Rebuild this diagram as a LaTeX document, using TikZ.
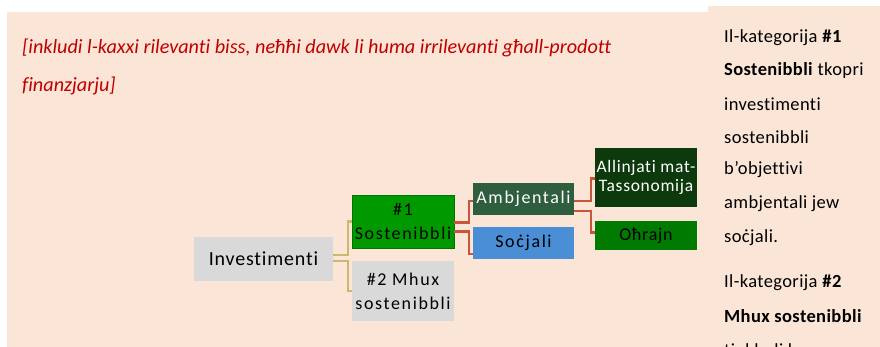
\documentclass[tikz,border=0pt]{standalone}
\usepackage{fontspec}
\setmainfont{Carlito}[Ligatures=NoCommon]
\newfontfamily\boxfont{Carlito}[Ligatures=NoCommon, LetterSpace=4]
\newfontfamily\spacedfont{Carlito}[Ligatures=NoCommon, LetterSpace=9]
\newfontfamily\sidefont{Carlito}[Ligatures=NoCommon, LetterSpace=2]
\usepackage{xcolor}
\usepackage{tikz}
\definecolor{peach}{HTML}{FBE5D6}
\definecolor{notered}{HTML}{C00000}
\definecolor{boxgray}{HTML}{D9D9D9}
\definecolor{sostgreen}{HTML}{009A00}
\definecolor{ambgreen}{HTML}{2E5E3E}
\definecolor{socblue}{HTML}{4A8ED6}
\definecolor{taxgreen}{HTML}{0D3A0D}
\definecolor{othgreen}{HTML}{007A00}
\definecolor{olive}{HTML}{C9BA72}
\definecolor{rust}{HTML}{C9563A}

\begin{document}
\begin{tikzpicture}[x=1pt, y=-1pt,
  box/.style={inner sep=0pt, align=center, font=\boxfont\fontsize{18}{24}\selectfont},
  spaced/.style={font=\spacedfont\fontsize{18}{24}\selectfont},
  tan/.style={olive, line width=2.4pt},
  red/.style={rust, line width=2.4pt}]
\useasboundingbox (0,0) rectangle (880,347);
\fill[white] (0,0) rectangle (880,347);
\fill[peach] (7,12) rectangle (708,347); \fill[peach] (708,6) rectangle (880,347);
% note to the reader
\node[anchor=west, inner sep=0pt, notered, font=\itshape\fontsize{20.2}{22}\selectfont] (note1) at (22,48) {[inkludi l-kaxxi rilevanti biss, neħħi dawk li huma irrilevanti għall-prodott};
\node[anchor=west, inner sep=0pt, notered, font=\itshape\fontsize{20.2}{22}\selectfont] (note2) at (22,86) {finanzjarju]};
% the boxes
\node[box, fill=boxgray, minimum width=139pt, minimum height=44pt, font=\boxfont\fontsize{20}{24}\selectfont] (inv) at (263.5,259) {Investimenti};
\node[box, spaced, fill=sostgreen, draw=green!45!black, minimum width=102pt, minimum height=53pt] (sost) at (403,221.5) {\#1\\Sostenibbli};
\node[box, spaced, fill=boxgray, minimum width=102pt, minimum height=60pt] (mhux) at (403,291) {\#2 Mhux\\sostenibbli};
\node[box, spaced, fill=ambgreen, text=white, minimum width=101pt, minimum height=32pt] (amb) at (523.5,199) {Ambjentali};
\node[box, spaced, fill=socblue, minimum width=101pt, minimum height=32pt] (soc) at (523.5,243) {Soċjali};
\node[box, fill=taxgreen, text=white, minimum width=102pt, minimum height=59pt, font=\boxfont\fontsize{17.5}{19.5}\selectfont] (tax) at (646,177.5) {Allinjati mat-\\Tassonomija};
\node[box, fill=othgreen, minimum width=102pt, minimum height=29pt] (oth) at (646,235.5) {Oħrajn};
% connectors
\draw[tan] ([yshift=4pt]inv.east) -- ++(15,0) |- (sost.west);
\draw[tan] ([yshift=-2pt]inv.east) -- ++(15,0) |- (mhux.west);
\draw[red] ([yshift=-1pt]sost.east) -- ++(15,0) |- ([yshift=-2pt]amb.west);
\draw[red] ([yshift=-10pt]sost.east) -- ++(15,0) |- ([yshift=-11pt]soc.west);
\draw[red] ([yshift=-2pt]amb.east) -- ++(17,0) |- ([yshift=-1pt]tax.west);
\draw[red] ([yshift=-12pt]amb.east) -- ++(17,0) |- ([yshift=3pt]oth.west);
% side text
\begin{scope}
\clip (708,6) rectangle (880,347);
\foreach \i/\y/\t in {1/38/{Il-kategorija \textbf{\#1}}, 2/71/{\textbf{Sostenibbli} tkopri}, 3/104/investimenti, 4/137/sostenibbli, 5/170/b’objettivi, 6/204/ambjentali jew, 7/238/soċjali., 8/283/{Il-kategorija \textbf{\#2}}, 9/316/{\textbf{Mhux sostenibbli}}, 10/350/tinkludi l-}
  \node[anchor=west, inner sep=0pt, font=\sidefont\fontsize{18.5}{21}\selectfont] (side\i) at (724,\y) {\t};
\end{scope}
\end{tikzpicture}
\end{document}
